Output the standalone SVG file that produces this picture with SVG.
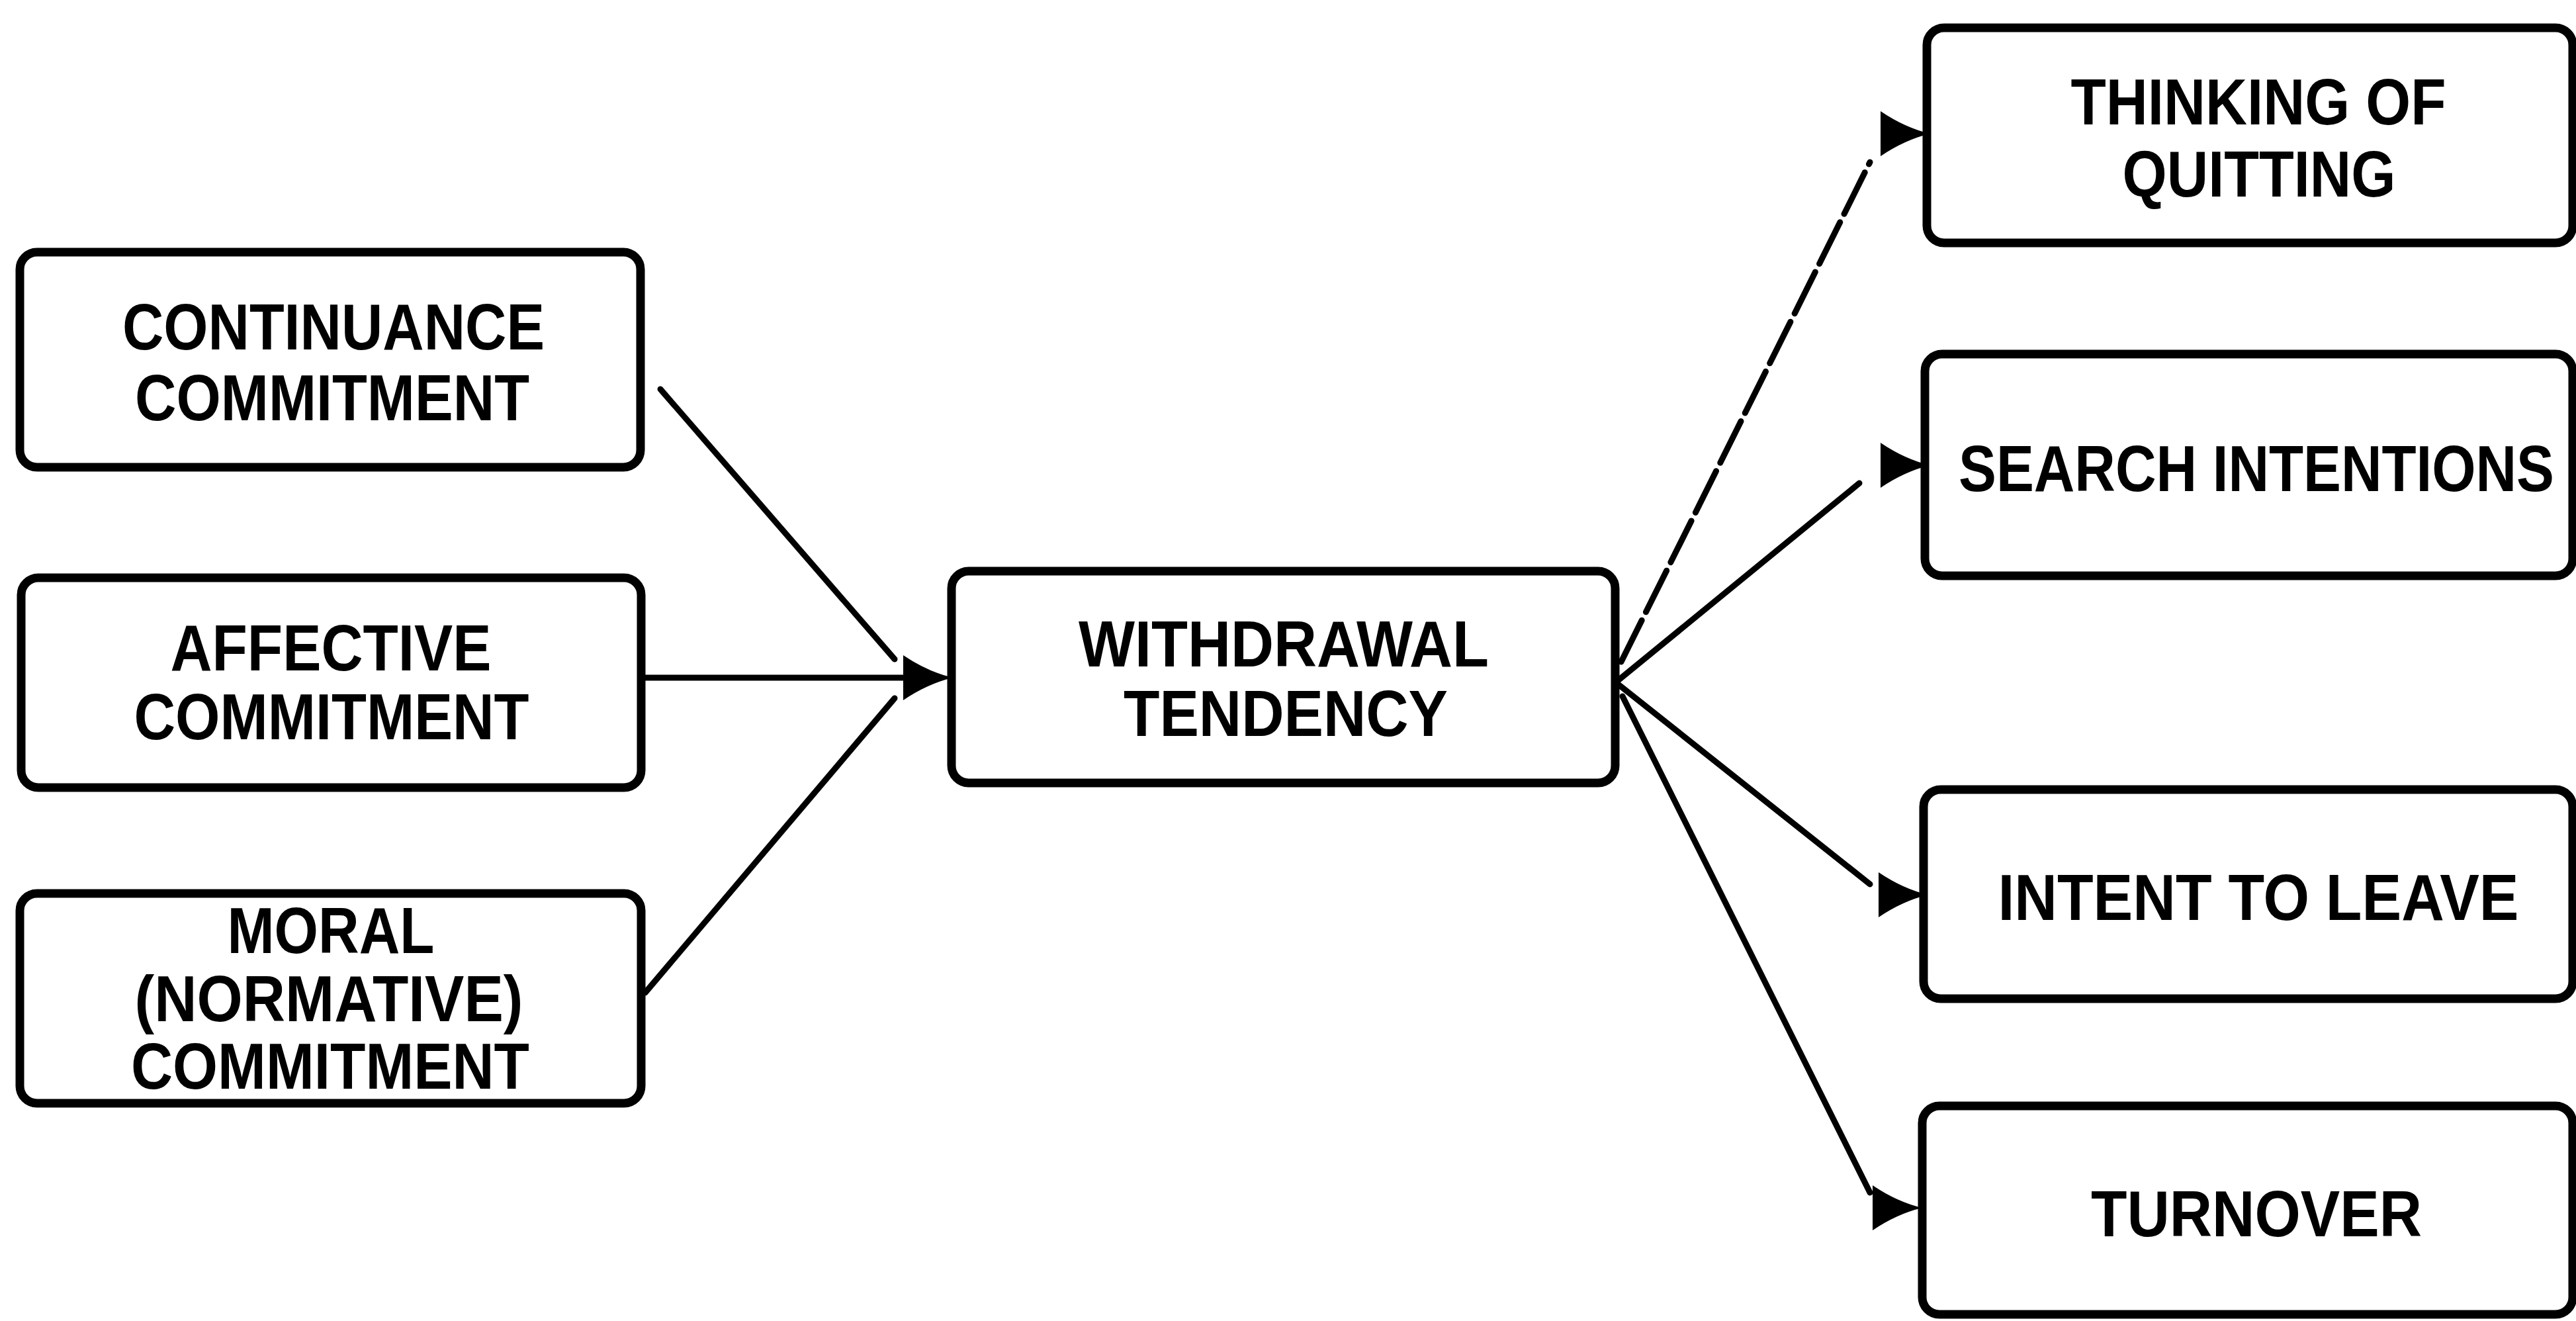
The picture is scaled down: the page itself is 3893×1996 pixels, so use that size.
<svg xmlns="http://www.w3.org/2000/svg" xmlns:xlink="http://www.w3.org/1999/xlink" width="3893" height="1996" viewBox="0 0 3893 1996">
  <style>
    .box { fill: #ffffff; stroke: #000000; stroke-width: 13; }
    .lbl { font-family: "Liberation Sans", Arial, sans-serif; font-weight: bold; font-size: 98px; fill: #000000; text-anchor: middle; }
    .wire { fill: none; stroke: #000000; stroke-width: 9; stroke-linecap: round; }
    .head { fill: #000000; }
  </style>
  <defs>
    <!-- right-pointing arrowhead, tip at the origin -->
    <path id="ah" d="M0,0 Q-38,-9 -75,-34 L-75,34 Q-38,9 0,0 Z"/>
  </defs>
  <rect width="3893" height="1996" fill="#ffffff"/>

  <g id="connectors">
    <line class="wire" x1="998" y1="588" x2="1352" y2="996"/>
    <line class="wire" x1="969" y1="1024" x2="1368" y2="1024"/>
    <line class="wire" x1="975" y1="1500" x2="1352" y2="1055"/>
    <use xlink:href="#ah" class="head" x="1440" y="1024"/>

    <line class="wire" x1="2450" y1="1000" x2="2826" y2="245" stroke-dasharray="70 14"/>
    <line class="wire" x1="2443" y1="1030" x2="2810" y2="730"/>
    <line class="wire" x1="2443" y1="1032" x2="2826" y2="1336"/>
    <line class="wire" x1="2452" y1="1052" x2="2826" y2="1802"/>
    <use xlink:href="#ah" class="head" x="2917" y="202"/>
    <use xlink:href="#ah" class="head" x="2917" y="703"/>
    <use xlink:href="#ah" class="head" x="2914" y="1352"/>
    <use xlink:href="#ah" class="head" x="2905" y="1825"/>
  </g>

  <g id="continuance">
    <rect class="box" x="30" y="381" width="938" height="325" rx="26"/>
    <text class="lbl" x="504" y="528" textLength="638" lengthAdjust="spacingAndGlyphs">CONTINUANCE</text>
    <text class="lbl" x="502" y="635" textLength="596" lengthAdjust="spacingAndGlyphs">COMMITMENT</text>
  </g>

  <g id="affective">
    <rect class="box" x="32" y="873" width="937" height="317" rx="26"/>
    <text class="lbl" x="500" y="1013" textLength="485" lengthAdjust="spacingAndGlyphs">AFFECTIVE</text>
    <text class="lbl" x="501" y="1117" textLength="597" lengthAdjust="spacingAndGlyphs">COMMITMENT</text>
  </g>

  <g id="moral">
    <rect class="box" x="30" y="1350" width="939" height="317" rx="26"/>
    <text class="lbl" x="500" y="1440" textLength="313" lengthAdjust="spacingAndGlyphs">MORAL</text>
    <text class="lbl" x="497" y="1543" textLength="587" lengthAdjust="spacingAndGlyphs">(NORMATIVE)</text>
    <text class="lbl" x="499" y="1645" textLength="602" lengthAdjust="spacingAndGlyphs">COMMITMENT</text>
  </g>

  <g id="withdrawal">
    <rect class="box" x="1438" y="863" width="1003" height="320" rx="26"/>
    <text class="lbl" x="1940" y="1007" textLength="620" lengthAdjust="spacingAndGlyphs">WITHDRAWAL</text>
    <text class="lbl" x="1943" y="1112" textLength="490" lengthAdjust="spacingAndGlyphs">TENDENCY</text>
  </g>

  <g id="thinking">
    <rect class="box" x="2912" y="42" width="976" height="325" rx="26"/>
    <text class="lbl" x="3413" y="188" textLength="567" lengthAdjust="spacingAndGlyphs">THINKING OF</text>
    <text class="lbl" x="3414" y="297" textLength="413" lengthAdjust="spacingAndGlyphs">QUITTING</text>
  </g>

  <g id="search">
    <rect class="box" x="2909" y="535" width="979" height="335" rx="26"/>
    <!-- single long line, narrowed horizontally to sit inside the box -->
    <text class="lbl" transform="translate(3410,742) scale(0.87,1)" x="0" y="0">SEARCH INTENTIONS</text>
  </g>

  <g id="intent">
    <rect class="box" x="2907" y="1193" width="981" height="316" rx="26"/>
    <text class="lbl" x="3413" y="1390" textLength="787" lengthAdjust="spacingAndGlyphs">INTENT TO LEAVE</text>
  </g>

  <g id="turnover">
    <rect class="box" x="2905" y="1671" width="983" height="315" rx="26"/>
    <text class="lbl" x="3410" y="1868" textLength="500" lengthAdjust="spacingAndGlyphs">TURNOVER</text>
  </g>
</svg>
